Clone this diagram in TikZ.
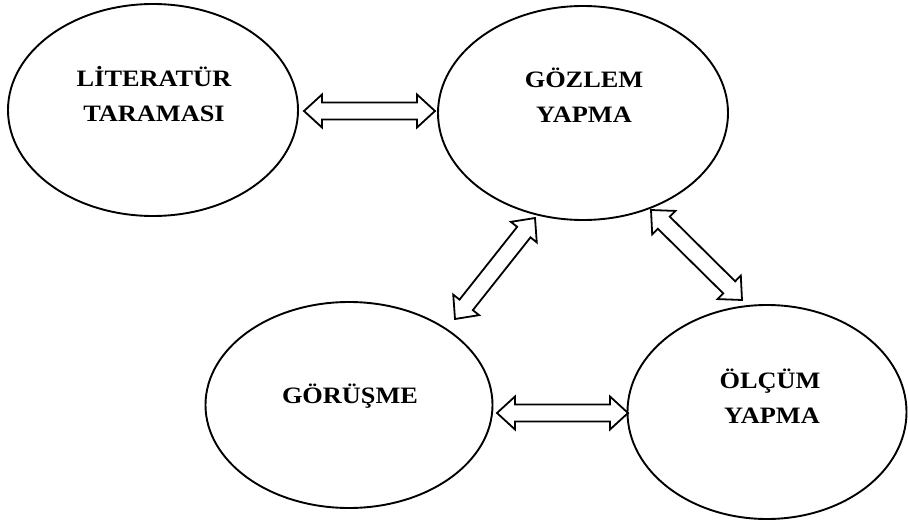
\documentclass[tikz,border=0pt]{standalone}
\usepackage{fontspec}
\newfontfamily\labfont[FakeStretch=1.12]{Liberation Serif}
\usetikzlibrary{shapes.geometric,calc}
\newcommand\headlen{18pt}
\newcommand\headw{16.5pt}
\newcommand\shaftw{8.5pt}
\newcommand\blockarr[2]{%
  \coordinate (ba1) at ($(#1)!\headlen!(#2)$);
  \coordinate (ba2) at ($(#2)!\headlen!(#1)$);
  \draw[arrowbox] (#1) -- ($(ba1)!\headw!90:(#2)$) -- ($(ba1)!\shaftw!90:(#2)$)
    -- ($(ba2)!\shaftw!-90:(#1)$) -- ($(ba2)!\headw!-90:(#1)$) -- (#2)
    -- ($(ba2)!\headw!90:(#1)$) -- ($(ba2)!\shaftw!90:(#1)$)
    -- ($(ba1)!\shaftw!-90:(#2)$) -- ($(ba1)!\headw!-90:(#2)$) -- cycle;}
\tikzset{
  oval/.style={ellipse, draw=black, line width=1.9pt, inner sep=0pt},
  lab/.style={anchor=base, inner sep=0pt, font=\labfont\bfseries\fontsize{23.5}{28}\selectfont},
  arrowbox/.style={draw=black, fill=white, line width=1.8pt, line join=miter}
}
\begin{document}
\begin{tikzpicture}[x=1pt,y=-1pt]
\useasboundingbox[fill=white] (0,0) rectangle (908,524);
% ellipses
\node[oval, minimum width=290pt, minimum height=212pt] (lit) at (153,110) {};
\node[oval, minimum width=290pt, minimum height=214pt] (goz) at (583,113) {};
\node[oval, minimum width=287pt, minimum height=206pt] (gor) at (349,405) {};
\node[oval, minimum width=279pt, minimum height=214pt] (olc) at (767,412) {};
% labels
\node[lab] (lit1) at (154,87) {LİTERATÜR};
\node[lab] (lit2) at (154,122) {TARAMASI};
\node[lab] (goz1) at (584,88) {GÖZLEM};
\node[lab] (goz2) at (584,123) {YAPMA};
\node[lab] (gor1) at (350,403) {GÖRÜŞME};
\node[lab] (olc1) at (770,388) {ÖLÇÜM};
\node[lab] (olc2) at (772,423) {YAPMA};
% arrow end points
\coordinate (a1) at (304,111);
\coordinate (a2) at (435,111);
\coordinate (b1) at (497,413);
\coordinate (b2) at (628,413);
\coordinate (c1) at (535,218);
\coordinate (c2) at (455,319);
\coordinate (d1) at (651,210);
\coordinate (d2) at (742,300);
\blockarr{a1}{a2}
\blockarr{b1}{b2}
\blockarr{c1}{c2}
\blockarr{d1}{d2}
\end{tikzpicture}
\end{document}
